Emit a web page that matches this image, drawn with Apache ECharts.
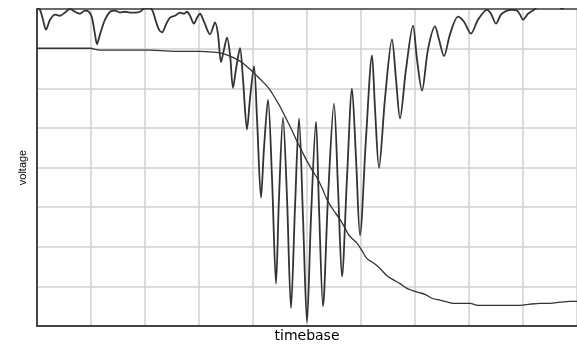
<!DOCTYPE html>
<html>
<head>
<meta charset="utf-8">
<script src="https://cdn.jsdelivr.net/npm/echarts@6/dist/echarts.min.js"></script>
<style>
  html, body { margin: 0; padding: 0; background: #fff; }
  #chart { width: 577px; height: 348px; }
</style>
</head>
<body>
<div id="chart"></div>
<script>
// sample index along the timebase, 54 samples per grid division
const oscSample = [0, 3, 6, 9, 13, 18, 23, 28, 33, 38, 43, 48, 52, 55, 58, 60, 63, 68, 73, 78,
  83, 88, 93, 98, 103, 108, 113, 116, 119, 122, 125, 129, 133, 138, 143, 147, 150, 153, 157, 160,
  163, 167, 173, 178, 181, 184, 187, 190, 193, 196, 199, 203, 206, 210, 213, 217, 220, 224, 227, 231,
  235, 239, 242, 246, 250, 254, 258, 262, 266, 270, 274, 279, 282, 286, 291, 297, 301, 305, 310, 315,
  319, 323, 329, 335, 338, 342, 348, 355, 359, 363, 369, 376, 380, 385, 391, 398, 402, 407, 413, 421,
  427, 434, 441, 450, 454, 459, 464, 470, 475, 480, 483, 486, 491, 498, 503, 513, 521, 525, 529, 540];
const oscVoltage = [8.03, 7.98, 7.73, 7.48, 7.73, 7.86, 7.83, 7.91, 8.0, 7.93, 7.88, 7.96, 7.93, 7.78, 7.36, 7.11, 7.36, 7.73, 7.93, 7.96,
  7.91, 7.93, 7.91, 7.91, 7.93, 8.03, 8.03, 7.93, 7.68, 7.48, 7.41, 7.61, 7.78, 7.83, 7.91, 7.88, 7.93, 7.83, 7.63, 7.78,
  7.88, 7.68, 7.36, 7.66, 7.36, 6.66, 6.98, 7.28, 6.86, 6.01, 6.48, 7.01, 6.23, 4.96, 5.74, 6.56, 5.24, 3.24, 4.49, 5.71,
  3.74, 1.07, 3.24, 5.26, 3.24, 0.45, 2.99, 5.24, 2.74, 0.10, 2.74, 5.16, 2.99, 0.50, 3.24, 5.61, 3.49, 1.25, 3.74, 5.99,
  4.24, 2.29, 4.74, 6.83, 5.49, 3.99, 5.74, 7.23, 6.23, 5.24, 6.48, 7.58, 6.73, 5.94, 6.98, 7.56, 7.23, 6.81, 7.36, 7.81,
  7.68, 7.38, 7.73, 7.98, 7.88, 7.63, 7.86, 7.96, 7.98, 7.96, 7.86, 7.73, 7.88, 8.0, 8.13, 8.18, 8.10, 8.0, 8.10, 8.18];

const envSample = [0, 54, 58, 63, 113, 143, 163, 176, 185, 193, 200, 206, 213, 220, 226, 233, 239, 243, 248, 253,
  260, 265, 270, 275, 280, 285, 290, 296, 303, 308, 312, 320, 325, 330, 336, 343, 350, 356, 363, 370,
  375, 381, 388, 395, 403, 411, 418, 433, 441, 483, 493, 503, 513, 523, 533, 540];
const envVoltage = [7.01, 7.01, 6.98, 6.96, 6.96, 6.93, 6.93, 6.91, 6.88, 6.81, 6.73, 6.63, 6.48, 6.31, 6.16, 5.96, 5.71, 5.54, 5.29, 5.04,
  4.66, 4.41, 4.16, 3.94, 3.74, 3.49, 3.19, 2.94, 2.69, 2.47, 2.29, 2.09, 1.90, 1.70, 1.60, 1.45, 1.27, 1.17, 1.07, 0.95,
  0.90, 0.85, 0.80, 0.70, 0.65, 0.60, 0.57, 0.57, 0.52, 0.52, 0.55, 0.57, 0.57, 0.60, 0.62, 0.62];

const chart = echarts.init(document.getElementById('chart'));

const gridLine = { show: true, lineStyle: { color: '#d0d0d0', width: 1.5 } };
const darkLine = { show: true, lineStyle: { color: '#444', width: 2 } };

chart.setOption({
  animation: false,
  backgroundColor: '#fff',
  grid: { left: 37, right: 0, top: 9, bottom: 18 },
  xAxis: [
    {
      type: 'value',
      min: 0,
      max: 540,
      interval: 54,
      name: 'timebase',
      nameLocation: 'middle',
      nameGap: 3,
      nameTextStyle: { fontFamily: 'DejaVu Sans', fontSize: 14, color: '#000', verticalAlign: 'top' },
      axisLine: darkLine,
      axisTick: { show: false },
      axisLabel: { show: false },
      splitLine: gridLine
    },
    {
      // top border of the plot
      type: 'value',
      position: 'top',
      min: 0,
      max: 540,
      axisLine: { show: true, lineStyle: { color: '#444', width: 1.5 } },
      axisTick: { show: false },
      axisLabel: { show: false },
      splitLine: { show: false }
    }
  ],
  yAxis: {
    type: 'value',
    min: 0,
    max: 8,
    interval: 1,
    name: 'voltage',
    nameLocation: 'middle',
    nameGap: 9,
    nameTextStyle: { fontFamily: 'Liberation Sans', fontSize: 11, color: '#000' },
    axisLine: darkLine,
    axisTick: { show: false },
    axisLabel: { show: false },
    splitLine: gridLine
  },
  series: [
    {
      type: 'line',
      data: oscSample.map((s, i) => [s, oscVoltage[i]]),
      smooth: 0.3,
      symbol: 'none',
      clip: true,
      lineStyle: { color: '#333', width: 1.8 }
    },
    {
      type: 'line',
      data: envSample.map((s, i) => [s, envVoltage[i]]),
      smooth: 0.3,
      symbol: 'none',
      clip: true,
      lineStyle: { color: '#333', width: 1.3 }
    }
  ]
});
</script>
</body>
</html>
